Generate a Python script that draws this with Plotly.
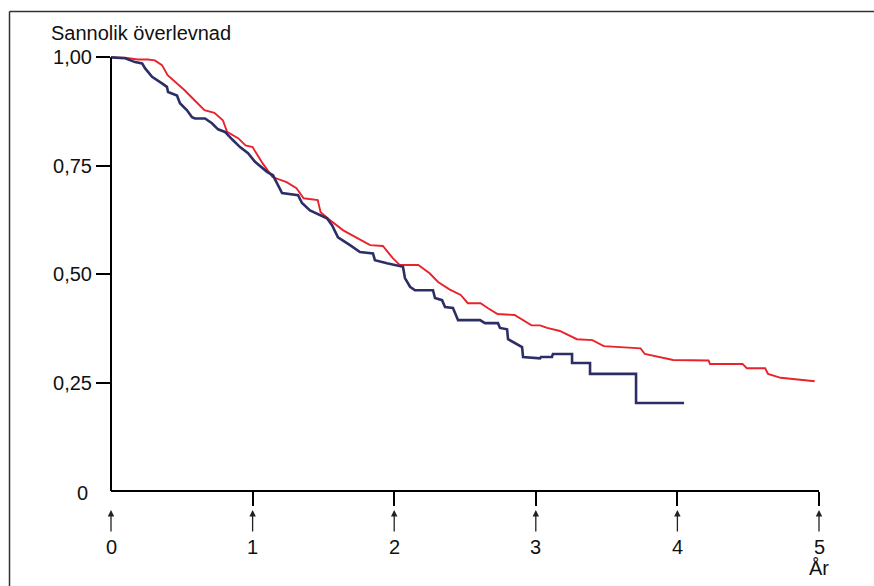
import plotly.graph_objects as go

# Survival curves (years, probability)
red_t = [0, 0.10, 0.19, 0.26, 0.31, 0.36, 0.40, 0.45, 0.52, 0.59, 0.66, 0.73, 0.79, 0.82, 0.90,
         0.95, 1.00, 1.02, 1.07, 1.14, 1.24, 1.31, 1.36, 1.46, 1.48, 1.55, 1.64, 1.74, 1.83,
         1.92, 1.99, 2.04, 2.17, 2.25, 2.31, 2.39, 2.47, 2.52, 2.61, 2.66, 2.73, 2.85, 2.91,
         2.97, 3.03, 3.08, 3.17, 3.29, 3.40, 3.48, 3.74, 3.77, 3.97, 4.22, 4.23, 4.46, 4.49,
         4.62, 4.64, 4.73, 4.97]
red_s = [1.0, 0.999, 0.995, 0.995, 0.993, 0.982, 0.959, 0.945, 0.924, 0.901, 0.878, 0.872,
         0.855, 0.828, 0.813, 0.797, 0.793, 0.782, 0.756, 0.724, 0.712, 0.698, 0.675, 0.671,
         0.643, 0.624, 0.601, 0.583, 0.567, 0.565, 0.537, 0.521, 0.521, 0.502, 0.482, 0.465,
         0.452, 0.433, 0.433, 0.422, 0.408, 0.406, 0.394, 0.382, 0.382, 0.376, 0.369, 0.350,
         0.348, 0.334, 0.329, 0.316, 0.302, 0.301, 0.293, 0.293, 0.283, 0.283, 0.270, 0.261,
         0.253]

navy_t = [0, 0.10, 0.17, 0.22, 0.24, 0.29, 0.36, 0.395, 0.403, 0.466, 0.487, 0.537, 0.572,
          0.593, 0.664, 0.713, 0.756, 0.805, 0.855, 0.911, 0.968, 1.017, 1.102, 1.144, 1.172,
          1.208, 1.321, 1.349, 1.405, 1.476, 1.525, 1.561, 1.603, 1.688, 1.758, 1.850, 1.864,
          1.949, 2.062, 2.076, 2.112, 2.147, 2.274, 2.288, 2.338, 2.359, 2.415, 2.451, 2.606,
          2.641, 2.733, 2.747, 2.797, 2.804, 2.853, 2.903, 2.910, 3.030, 3.037, 3.114, 3.121,
          3.256, 3.256, 3.383, 3.383, 3.708, 3.708, 4.047]
navy_s = [1.0, 0.998, 0.989, 0.986, 0.975, 0.955, 0.940, 0.932, 0.920, 0.912, 0.894, 0.878,
          0.862, 0.859, 0.859, 0.848, 0.834, 0.828, 0.811, 0.793, 0.779, 0.759, 0.736, 0.728,
          0.710, 0.687, 0.682, 0.664, 0.647, 0.636, 0.629, 0.613, 0.585, 0.567, 0.551, 0.548,
          0.532, 0.525, 0.517, 0.491, 0.471, 0.463, 0.463, 0.445, 0.440, 0.424, 0.422, 0.394,
          0.394, 0.387, 0.387, 0.376, 0.373, 0.350, 0.341, 0.332, 0.309, 0.306, 0.309, 0.309,
          0.316, 0.316, 0.295, 0.295, 0.270, 0.270, 0.203, 0.203]

y_ticks = [0.25, 0.50, 0.75, 1.00]
y_tick_labels = ["0,25", "0,50", "0,75", "1,00"]
x_years = [0, 1, 2, 3, 4, 5]
x_labels = ["0", "1", "2", "3", "4", "5"]

FONT = "Liberation Sans, Arial, sans-serif"
FS = 20

fig = go.Figure()
fig.add_trace(go.Scatter(x=red_t, y=red_s, mode="lines",
                         line=dict(color="#e8232b", width=1.9), hoverinfo="skip"))
fig.add_trace(go.Scatter(x=navy_t, y=navy_s, mode="lines",
                         line=dict(color="#2c2f66", width=2.6), hoverinfo="skip"))

W, H = 874, 586
ml, mr, mt, mb = 111, 55, 53, 95
pw, ph = W - ml - mr, H - mt - mb
ytop = 1.01

def px_to_paper_x(px):
    return (px - ml) / pw

def px_to_paper_y(py):
    return (H - mb - py) / ph

annotations = []
# y label "0" without tick
annotations.append(dict(x=px_to_paper_x(90), xref="paper", y=0, yref="paper", text="0",
                        showarrow=False, xanchor="right", yanchor="middle", yshift=-2,
                        font=dict(family=FONT, size=FS, color="#111")))
# arrows and year labels
for t, lab in zip(x_years, x_labels):
    annotations.append(dict(x=t, xref="x", y=px_to_paper_y(510), yref="paper", text="",
                            showarrow=True, ax=0, ay=23, axref="pixel", ayref="pixel",
                            arrowhead=2, arrowsize=1, arrowwidth=1.3, arrowcolor="#222",
                            standoff=0))
    annotations.append(dict(x=t, xref="x", y=px_to_paper_y(547), yref="paper", text=lab,
                            showarrow=False, xanchor="center", yanchor="middle",
                            font=dict(family=FONT, size=FS, color="#111")))
annotations.append(dict(x=5, xref="x", y=px_to_paper_y(568), yref="paper", text="År",
                        showarrow=False, xanchor="center", yanchor="middle",
                        font=dict(family=FONT, size=FS, color="#111")))
annotations.append(dict(x=px_to_paper_x(49), xref="paper", y=px_to_paper_y(33), yref="paper",
                        text="Sannolik överlevnad", showarrow=False, xanchor="left",
                        yanchor="middle", font=dict(family=FONT, size=FS, color="#111")))

shapes = [
    # axis lines
    dict(type="line", xref="paper", yref="paper", x0=0, x1=0, y0=0, y1=1 / ytop,
         line=dict(color="black", width=2)),
    dict(type="line", xref="paper", yref="paper", x0=0, x1=1, y0=0, y1=0,
         line=dict(color="black", width=2)),
    # outer frame (top and left)
    dict(type="line", xref="paper", yref="paper", x0=px_to_paper_x(9.5), x1=px_to_paper_x(874),
         y0=px_to_paper_y(11.5), y1=px_to_paper_y(11.5), line=dict(color="#333", width=1.5)),
    dict(type="line", xref="paper", yref="paper", x0=px_to_paper_x(9.5), x1=px_to_paper_x(9.5),
         y0=px_to_paper_y(11.5), y1=px_to_paper_y(586), line=dict(color="#333", width=1.5)),
]

fig.update_layout(
    width=W, height=H,
    margin=dict(l=ml, r=mr, t=mt, b=mb, pad=0),
    paper_bgcolor="white", plot_bgcolor="white",
    showlegend=False,
    font=dict(family=FONT, size=FS, color="#111"),
    xaxis=dict(range=[0, 5], showgrid=False, zeroline=False, showline=False,
               tickvals=x_years[1:], ticks="outside", ticklen=14, tickwidth=2,
               tickcolor="black", showticklabels=False, fixedrange=True),
    yaxis=dict(range=[0, ytop], showgrid=False, zeroline=False, showline=False,
               tickvals=y_ticks, ticktext=y_tick_labels, ticks="outside", ticklen=14,
               tickwidth=2, tickcolor="black",
               tickfont=dict(family=FONT, size=FS, color="#111"), fixedrange=True),
    annotations=annotations,
    shapes=shapes,
)

fig.write_html("out.html", config={"displayModeBar": False},
               post_script=("document.documentElement.style.margin='0';"
                            "document.documentElement.style.overflow='hidden';"
                            "document.body.style.margin='0';"
                            "document.body.style.overflow='hidden';"))
